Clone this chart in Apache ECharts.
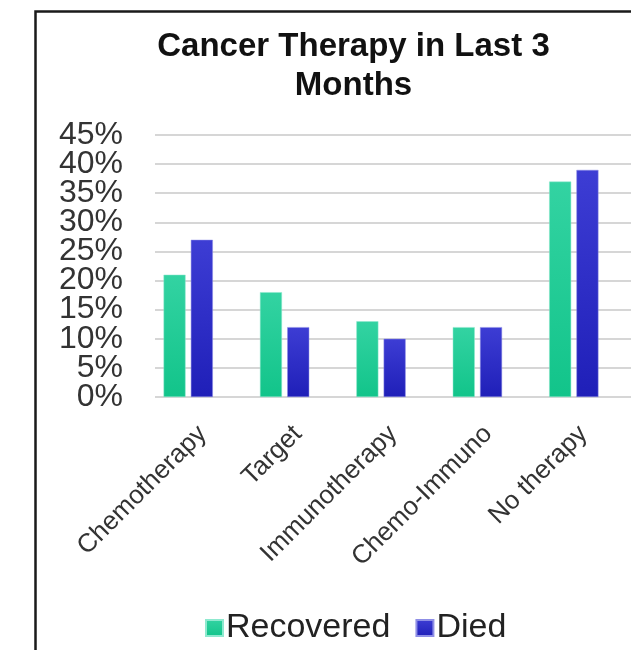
<!DOCTYPE html>
<html>
<head>
<meta charset="utf-8">
<script src="https://cdn.jsdelivr.net/npm/echarts@6/dist/echarts.min.js"></script>
<style>
  html, body { margin: 0; padding: 0; background: #fff; }
  #chart { width: 631px; height: 650px; }
</style>
</head>
<body>
<div id="chart"></div>
<script>
// Therapy categories and the share of patients in each outcome group
const categories = ['Chemotherapy', 'Target', 'Immunotherapy', 'Chemo-Immuno', 'No therapy'];
const recovered = [21, 18, 13, 12, 37];
const died = [27, 12, 10, 12, 39];
const yTicks = { min: 0, max: 45, step: 5 };
const titleLines = ['Cancer Therapy in Last 3', 'Months'];

const FONT = '"Liberation Sans", Arial, sans-serif';

function grad(top, bottom) {
  return new echarts.graphic.LinearGradient(0, 0, 0, 1, [
    { offset: 0, color: top },
    { offset: 1, color: bottom }
  ]);
}

const chart = echarts.init(document.getElementById('chart'), null, { renderer: 'canvas' });

const titleText = titleLines.map((line, i) => ({
  type: 'text',
  x: 353.5,
  y: 30 + i * 39,
  silent: true,
  style: {
    text: line,
    fill: '#111111',
    font: 'bold 33px ' + FONT,
    align: 'center',
    verticalAlign: 'top'
  }
}));

// The percent labels sit closer together than their glyph height, so they are
// split over two coincident axes (multiples of 10 / odd multiples of 5) to keep
// every one of them visible.
function percentAxis(showRemainder, withGrid) {
  return {
    type: 'value',
    gridIndex: 0,
    position: 'left',
    min: yTicks.min,
    max: yTicks.max,
    interval: yTicks.step,
    axisLine: { show: false },
    axisTick: { show: false },
    axisLabel: {
      formatter: v => (v % (yTicks.step * 2) === showRemainder ? v + '%' : ''),
      margin: 32,
      showMinLabel: true,
      showMaxLabel: true,
      fontFamily: FONT,
      fontSize: 32,
      color: '#333333'
    },
    splitLine: { show: withGrid, lineStyle: { color: '#d6d6d6', width: 2 } }
  };
}

chart.setOption({
  backgroundColor: '#ffffff',
  animation: false,
  legend: {
    left: 200,
    top: 606,
    itemWidth: 17,
    itemHeight: 16,
    itemGap: 25,
    icon: 'rect',
    data: ['Recovered', 'Died'],
    textStyle: { fontFamily: FONT, fontSize: 34, color: '#222222', padding: [0, 0, 0, -2] }
  },
  graphic: [{
    // chart frame, open on the right and bottom
    type: 'rect',
    shape: { x: 35.5, y: 11.5, width: 700, height: 700 },
    style: { fill: 'none', stroke: '#1a1a1a', lineWidth: 2.5 },
    silent: true
  }].concat(titleText),
  grid: [
    { left: 155, right: 0, top: 135, bottom: 253 },
    { left: 140, right: 9, top: 135, bottom: 253 }
  ],
  xAxis: [
    {
      // plot-area axis carrying the category names
      type: 'category',
      gridIndex: 0,
      data: categories,
      axisLine: { show: false },
      axisTick: { show: false },
      axisLabel: {
        rotate: 45,
        interval: 0,
        margin: 33,
        fontFamily: FONT,
        fontSize: 26,
        color: '#333333'
      }
    },
    { type: 'category', gridIndex: 1, data: categories, show: false }
  ],
  yAxis: [
    percentAxis(0, true),
    {
      type: 'value',
      gridIndex: 1,
      min: yTicks.min,
      max: yTicks.max,
      interval: yTicks.step,
      show: false
    },
    percentAxis(yTicks.step, false)
  ],
  series: [
    {
      name: 'Recovered',
      type: 'bar',
      xAxisIndex: 1,
      yAxisIndex: 1,
      data: recovered,
      barWidth: 22,
      barGap: '24%',
      itemStyle: {
        color: grad('#33d3a2', '#12c48a'),
        borderColor: '#8fe9cf',
        borderWidth: 0.5
      }
    },
    {
      name: 'Died',
      type: 'bar',
      xAxisIndex: 1,
      yAxisIndex: 1,
      data: died,
      barWidth: 22,
      itemStyle: {
        color: grad('#3d3dd4', '#1f1fb8'),
        borderColor: '#8f8fe6',
        borderWidth: 0.5
      }
    }
  ]
});
</script>
</body>
</html>
